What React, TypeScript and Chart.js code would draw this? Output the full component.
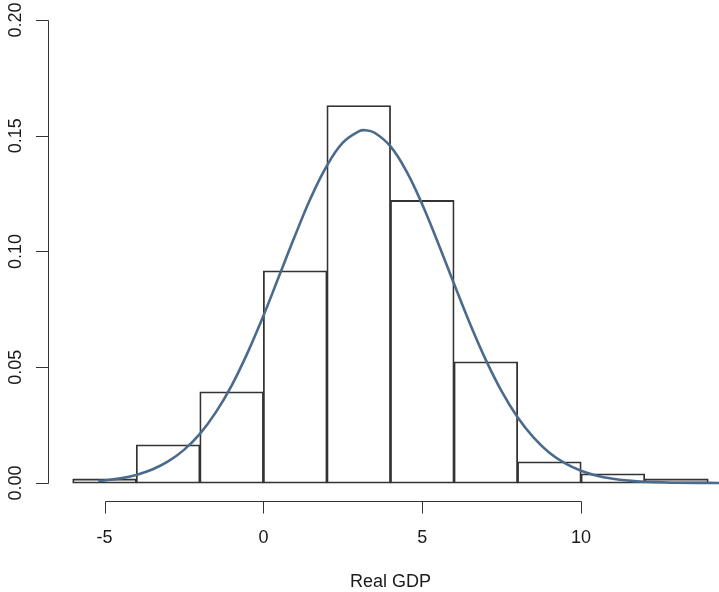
import React, { useEffect, useRef } from "react";
import { Chart, registerables } from "chart.js";

Chart.register(...registerables);

// Histogram bins (width 2), centres and densities
const binCenters = [-5, -3, -1, 1, 3, 5, 7, 9, 11, 13];
const binDensity = [0.0017, 0.0164, 0.0393, 0.0916, 0.163, 0.122, 0.0523, 0.0091, 0.0039, 0.0017];

// Density curve
const curveX = [-5.2, -5, -4.5, -4, -3.5, -3, -2.5, -2, -1.5, -1, -0.5, 0, 0.5, 1, 1.5, 2, 2.5, 3, 3.2, 3.5, 4, 4.5, 5, 5.5, 6, 6.5, 7, 7.5, 8, 8.5, 9, 9.5, 10, 10.5, 11, 11.5, 12, 12.5, 13, 14, 15];
const curveY = [0.0009, 0.0011, 0.002, 0.0035, 0.0058, 0.0093, 0.0143, 0.0212, 0.0305, 0.0421, 0.0562, 0.0722, 0.0896, 0.107, 0.1234, 0.1371, 0.147, 0.1519, 0.1524, 0.1513, 0.1454, 0.1347, 0.1203, 0.1036, 0.0861, 0.0689, 0.0532, 0.0396, 0.0284, 0.0197, 0.0131, 0.0085, 0.0053, 0.0031, 0.0018, 0.001, 0.0005, 0.0003, 0.0001, 0.00003, 0];

const xTicks = [-5, 0, 5, 10];
const xTickLabels = ["-5", "0", "5", "10"];
const yTicks = [0, 0.05, 0.1, 0.15, 0.2];
const yTickLabels = ["0.00", "0.05", "0.10", "0.15", "0.20"];
const xTitle = "Real GDP";
const xPlotRange = [-6.8, 14.8];

const FONT = '18px "Liberation Sans", Arial, Helvetica, sans-serif';

const rAxes = {
  id: "rAxes",
  afterDatasetsDraw(chart: any) {
    const ctx = chart.ctx as CanvasRenderingContext2D;
    const xs = chart.scales.x;
    const ys = chart.scales.y;
    const area = chart.chartArea;
    ctx.save();
    ctx.strokeStyle = "#333";
    ctx.fillStyle = "#1a1a1a";
    ctx.lineWidth = 1;
    ctx.font = FONT;

    // Y axis
    const ax = Math.floor(area.left) + 0.5;
    const y0 = ys.getPixelForValue(yTicks[0]);
    const y1 = ys.getPixelForValue(yTicks[yTicks.length - 1]);
    ctx.beginPath();
    ctx.moveTo(ax, Math.round(y0) + 0.5);
    ctx.lineTo(ax, Math.round(y1) + 0.5);
    yTicks.forEach((v) => {
      const py = Math.round(ys.getPixelForValue(v)) + 0.5;
      ctx.moveTo(ax, py);
      ctx.lineTo(ax - 12.5, py);
    });
    ctx.stroke();
    yTicks.forEach((v, i) => {
      const py = ys.getPixelForValue(v);
      ctx.save();
      ctx.translate(20.7, py);
      ctx.rotate(-Math.PI / 2);
      ctx.textAlign = "center";
      ctx.textBaseline = "alphabetic";
      ctx.fillText(yTickLabels[i], 0, 0);
      ctx.restore();
    });

    // X axis
    const ay = Math.floor(area.bottom) + 0.5;
    const x0 = xs.getPixelForValue(xTicks[0]);
    const x1 = xs.getPixelForValue(xTicks[xTicks.length - 1]);
    ctx.beginPath();
    ctx.moveTo(Math.round(x0) + 0.5, ay);
    ctx.lineTo(Math.round(x1) + 0.5, ay);
    xTicks.forEach((v) => {
      const px = Math.round(xs.getPixelForValue(v)) + 0.5;
      ctx.moveTo(px, ay);
      ctx.lineTo(px, ay + 12);
    });
    ctx.stroke();
    ctx.textAlign = "center";
    ctx.textBaseline = "alphabetic";
    xTicks.forEach((v, i) => {
      ctx.fillText(xTickLabels[i], xs.getPixelForValue(v), 543);
    });
    const mid = xs.getPixelForValue((xPlotRange[0] + xPlotRange[1]) / 2);
    ctx.fillText(xTitle, mid, 587);
    ctx.restore();
  },
};

export default function App() {
  const ref = useRef<HTMLCanvasElement | null>(null);
  useEffect(() => {
    if (!ref.current) return;
    const chart = new Chart(ref.current, {
      type: "bar",
      data: {
        datasets: [
          {
            type: "line",
            data: curveX.map((x, i) => ({ x, y: curveY[i] })),
            borderColor: "#4a6b8c",
            borderWidth: 2.6,
            pointRadius: 0,
            fill: false,
            tension: 0.4,
            order: 0,
          } as any,
          {
            type: "bar",
            data: binCenters.map((x, i) => ({ x, y: binDensity[i] })),
            backgroundColor: "rgba(255,255,255,0)",
            borderColor: "#333",
            borderWidth: 0.9,
            borderSkipped: false,
            inflateAmount: 0.45,
            barPercentage: 1,
            categoryPercentage: 1,
            order: 1,
          } as any,
        ],
      },
      options: {
        animation: false,
        responsive: false,
        devicePixelRatio: 1,
        layout: { padding: { left: 48, right: 0, top: 1.5, bottom: 90.5 } },
        plugins: { legend: { display: false }, tooltip: { enabled: false } },
        scales: {
          x: {
            type: "linear",
            min: -6.78,
            max: 14.34,
            display: false,
            offset: false,
            afterBuildTicks: (s: any) => {
              s.ticks = binCenters.map((v) => ({ value: v }));
            },
          },
          y: { type: "linear", min: -0.008, max: 0.208, display: false },
        },
      },
      plugins: [rAxes],
    });
    return () => chart.destroy();
  }, []);
  return (
    <div style={{ position: "fixed", left: 0, top: 0, width: 719, height: 592, background: "#fff" }}>
      <canvas ref={ref} width={719} height={592} style={{ display: "block" }} />
    </div>
  );
}
